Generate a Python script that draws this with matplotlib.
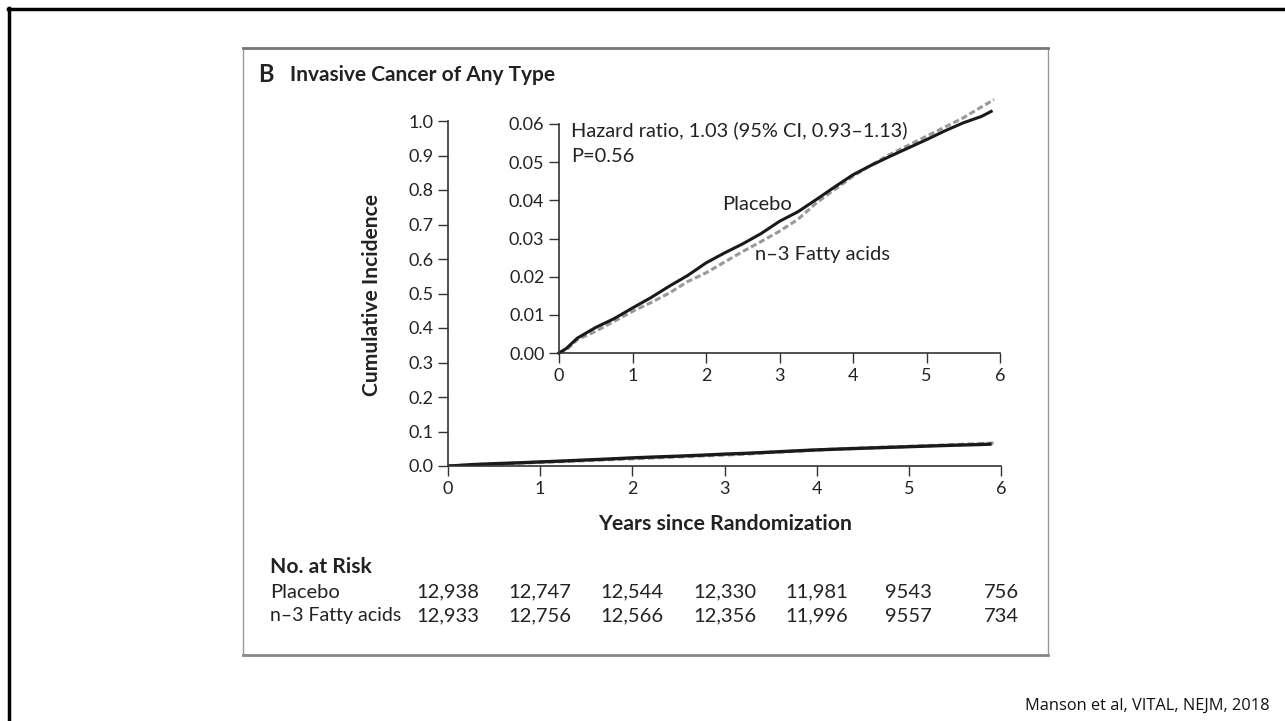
import matplotlib.pyplot as plt
from matplotlib.lines import Line2D
from matplotlib.patches import Rectangle
from matplotlib.transforms import blended_transform_factory

plt.rcParams['font.family'] = ['Lato', 'DejaVu Sans']

W, H = 1285, 721

# curve readings (years, cumulative incidence)
years = [0, 0.1, 0.25, 0.5, 0.75, 1.0, 1.25, 1.5, 1.75, 2.0, 2.25, 2.5, 2.75, 3.0,
         3.25, 3.5, 3.75, 4.0, 4.25, 4.5, 4.75, 5.0, 5.25, 5.5, 5.75, 5.88]
placebo = [0, 0.0012, 0.0039, 0.0067, 0.0090, 0.0118, 0.0145, 0.0175, 0.0203, 0.0236,
           0.0262, 0.0286, 0.0313, 0.0345, 0.0370, 0.0402, 0.0435, 0.0467, 0.0492,
           0.0515, 0.0537, 0.0559, 0.0582, 0.0603, 0.0620, 0.0633]
fatty_years = [0, 0.1, 0.25, 0.5, 0.75, 1.0, 1.25, 1.5, 1.75, 2.0, 2.25, 2.5, 2.75, 3.0,
               3.25, 3.5, 3.75, 4.0, 4.25, 4.5, 4.75, 5.0, 5.25, 5.5, 5.75, 5.92]
fatty = [0, 0.0008, 0.0035, 0.0057, 0.0083, 0.0109, 0.0132, 0.0157, 0.0187, 0.0210,
         0.0238, 0.0266, 0.0292, 0.0319, 0.0350, 0.0393, 0.0428, 0.0463, 0.0493,
         0.0520, 0.0544, 0.0568, 0.0592, 0.0616, 0.0645, 0.0664]

# numbers at risk
risk_years = [0, 1, 2, 3, 4, 5, 6]
risk_placebo = ['12,938', '12,747', '12,544', '12,330', '11,981', '9543', '756']
risk_fatty = ['12,933', '12,756', '12,566', '12,356', '11,996', '9557', '734']


def fx(x):
    return x / W


def fy(y):
    return 1 - y / H


fig = plt.figure(figsize=(W / 100, H / 100), dpi=100)

# slide border
fig.add_artist(Line2D([fx(8), 1.0], [fy(8.5), fy(8.5)], color='black', lw=2.5))
fig.add_artist(Line2D([fx(9), fx(9)], [fy(8), 0.0], color='black', lw=2.5))

# panel frame
fig.add_artist(Rectangle((fx(243), fy(655)), fx(1048) - fx(243), fy(48) - fy(655),
                         fill=False, edgecolor='#999999', lw=1.0))
fig.add_artist(Line2D([fx(243), fx(1048)], [fy(48), fy(48)], color='#777777', lw=2))
fig.add_artist(Line2D([fx(243), fx(1048)], [fy(655), fy(655)], color='#888888', lw=2))

tick_fs = 13
txt_fs = 14.5
col = '#222222'

# main axes
ax = fig.add_axes([fx(448), fy(466), fx(1001) - fx(448), fy(121) - fy(466)])
ax.plot(fatty_years, fatty, color='#999999', lw=2.4, ls=(0, (2, 1)))
ax.plot(years, placebo, color='#1a1a1a', lw=2.4)
ax.set_xlim(0, 6)
ax.set_ylim(0, 1.0)
ax.set_xticks(range(7))
ax.set_yticks([i / 10 for i in range(11)])
ax.set_yticklabels(['%.1f' % (i / 10) for i in range(11)])
for s in ['top', 'right']:
    ax.spines[s].set_visible(False)
for s in ['left', 'bottom']:
    ax.spines[s].set_color('#333333')
    ax.spines[s].set_linewidth(1.2)
ax.tick_params(axis='both', length=7, width=1.0, color='#333333', labelsize=tick_fs,
               labelcolor=col)
ax.tick_params(axis='x', pad=4)
ax.set_facecolor('none')

fig.text(fx(725), fy(524), 'Years since Randomization', ha='center', va='center',
         fontsize=15.3, fontweight='bold', color=col)
fig.text(fx(372), fy(295), 'Cumulative Incidence', ha='center', va='center',
         rotation=90, fontsize=15.1, fontweight='bold', color=col)

# inset
ins = fig.add_axes([fx(559), fy(353), fx(1000) - fx(559), fy(124) - fy(353)])
ins.plot(fatty_years, fatty, color='#999999', lw=2.2, ls=(0, (2, 1)), clip_on=False)
ins.plot(years, placebo, color='#1a1a1a', lw=2.2, clip_on=False)
ins.set_xlim(0, 6)
ins.set_ylim(0, 0.06)
ins.set_xticks(range(7))
ins.set_yticks([0, 0.01, 0.02, 0.03, 0.04, 0.05, 0.06])
ins.set_yticklabels(['0.00', '0.01', '0.02', '0.03', '0.04', '0.05', '0.06'])
for s in ['top', 'right']:
    ins.spines[s].set_visible(False)
for s in ['left', 'bottom']:
    ins.spines[s].set_color('#333333')
    ins.spines[s].set_linewidth(1.2)
ins.tick_params(axis='both', length=7, width=1.0, color='#333333', labelsize=tick_fs,
                labelcolor=col)
ins.set_facecolor('none')

ins.text(0.027, 0.975, 'Hazard ratio, 1.03 (95% CI, 0.93\u20131.13)', transform=ins.transAxes,
         ha='left', va='center', fontsize=14.4, color=col)
ins.text(0.027, 0.86, 'P=0.56', transform=ins.transAxes,
         ha='left', va='center', fontsize=14.4, color=col)
ins.text(2.22, 0.0388, 'Placebo', ha='left', va='center', fontsize=txt_fs, color=col)
ins.text(2.67, 0.0257, 'n\u20133 Fatty acids', ha='left', va='center', fontsize=txt_fs,
         color=col)

# title
fig.text(fx(258), fy(75), 'B', ha='left', va='center', fontsize=17, fontweight='bold',
         color=col)
fig.text(fx(290), fy(75), 'Invasive Cancer of Any Type', ha='left', va='center',
         fontsize=15, fontweight='bold', color=col)

# numbers at risk
fig.text(fx(270), fy(567), 'No. at Risk', ha='left', va='center', fontsize=15.2,
         fontweight='bold', color=col)
fig.text(fx(270), fy(592), 'Placebo', ha='left', va='center', fontsize=txt_fs, color=col)
fig.text(fx(270), fy(616), 'n\u20133 Fatty acids', ha='left', va='center', fontsize=14,
         color=col)
tr = blended_transform_factory(ax.transData, fig.transFigure)
for xv, a, b in zip(risk_years, risk_placebo, risk_fatty):
    ax.text(xv, fy(592), a, transform=tr, ha='center', va='center', fontsize=txt_fs,
            color=col)
    ax.text(xv, fy(616), b, transform=tr, ha='center', va='center', fontsize=txt_fs,
            color=col)

fig.text(fx(1270), fy(706), 'Manson et al, VITAL, NEJM, 2018', ha='right', va='center',
         fontsize=11.8, family=['Open Sans', 'DejaVu Sans'], color='#111111')

fig.savefig('out.png', dpi=100)
